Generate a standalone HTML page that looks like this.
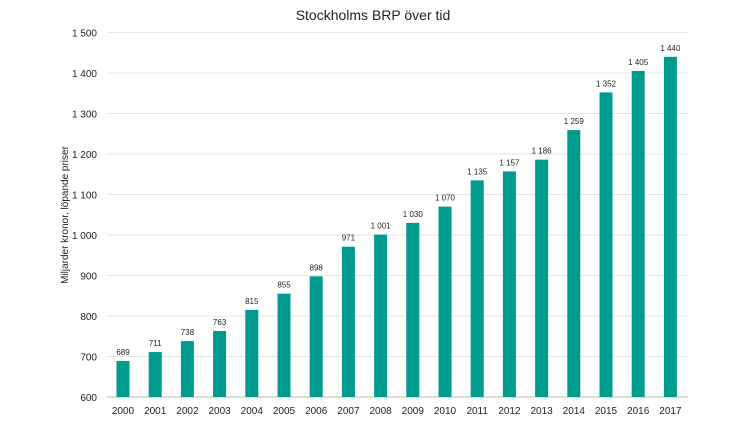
<!DOCTYPE html>
<html><head><meta charset="utf-8"><style>
body{margin:0;background:#fff;font-family:"Liberation Sans",sans-serif}
text{font-family:"Liberation Sans",sans-serif}
</style></head><body>
<svg width="746" height="419">
<text x="373" y="20" text-anchor="middle" font-size="14" fill="#222">Stockholms BRP över tid</text>
<text transform="translate(68,215) rotate(-90)" text-anchor="middle" font-size="10" fill="#222">Miljarder kronor, löpande priser</text>
<g id="grid"></g><g id="bars"></g><g id="labels"></g>
</svg>
<script>
const years=["2000","2001","2002","2003","2004","2005","2006","2007","2008","2009","2010","2011","2012","2013","2014","2015","2016","2017"];
const values=[689,711,738,763,815,855,898,971,1001,1030,1070,1135,1157,1186,1259,1352,1405,1440];
const yTicks=[600,700,800,900,1000,1100,1200,1300,1400,1500];
const svg=document.querySelector('svg'),NS='http://www.w3.org/2000/svg';
const y=v=>397-(v-600)*0.405;
const x=i=>123+i*32.2;
const fmt=v=>v>=1000?Math.floor(v/1000)+' '+String(v%1000).padStart(3,'0'):String(v);
function mk(tag,attrs,parent,txt){const e=document.createElementNS(NS,tag);for(const k in attrs)e.setAttribute(k,attrs[k]);if(txt!=null)e.textContent=txt;document.getElementById(parent)?document.getElementById(parent).appendChild(e):svg.appendChild(e);return e;}
yTicks.forEach(t=>{
 const l=mk('line',{x1:107,x2:688,y1:y(t),y2:y(t),stroke:t===600?'#bbb':'#e6e6e6','stroke-width':1},'grid');
 
 
 const tx=mk('text',{x:97,y:y(t)+4,'text-anchor':'end','font-size':10,fill:'#222'},'grid',fmt(t));
 
 
});
values.forEach((v,i)=>{
 const r=mk('rect',{x:x(i)-6.5,y:y(v),width:13,height:397-y(v),fill:'#009b8f'},'bars');
 
 
 const lb=mk('text',{x:x(i),y:y(v)-6,'text-anchor':'middle','font-size':8,fill:'#222'},'labels',fmt(v));
 
 
 const xl=mk('text',{x:x(i),y:414,'text-anchor':'middle','font-size':10,fill:'#222'},'labels',years[i]);
 
 
});
</script>
</body></html>
